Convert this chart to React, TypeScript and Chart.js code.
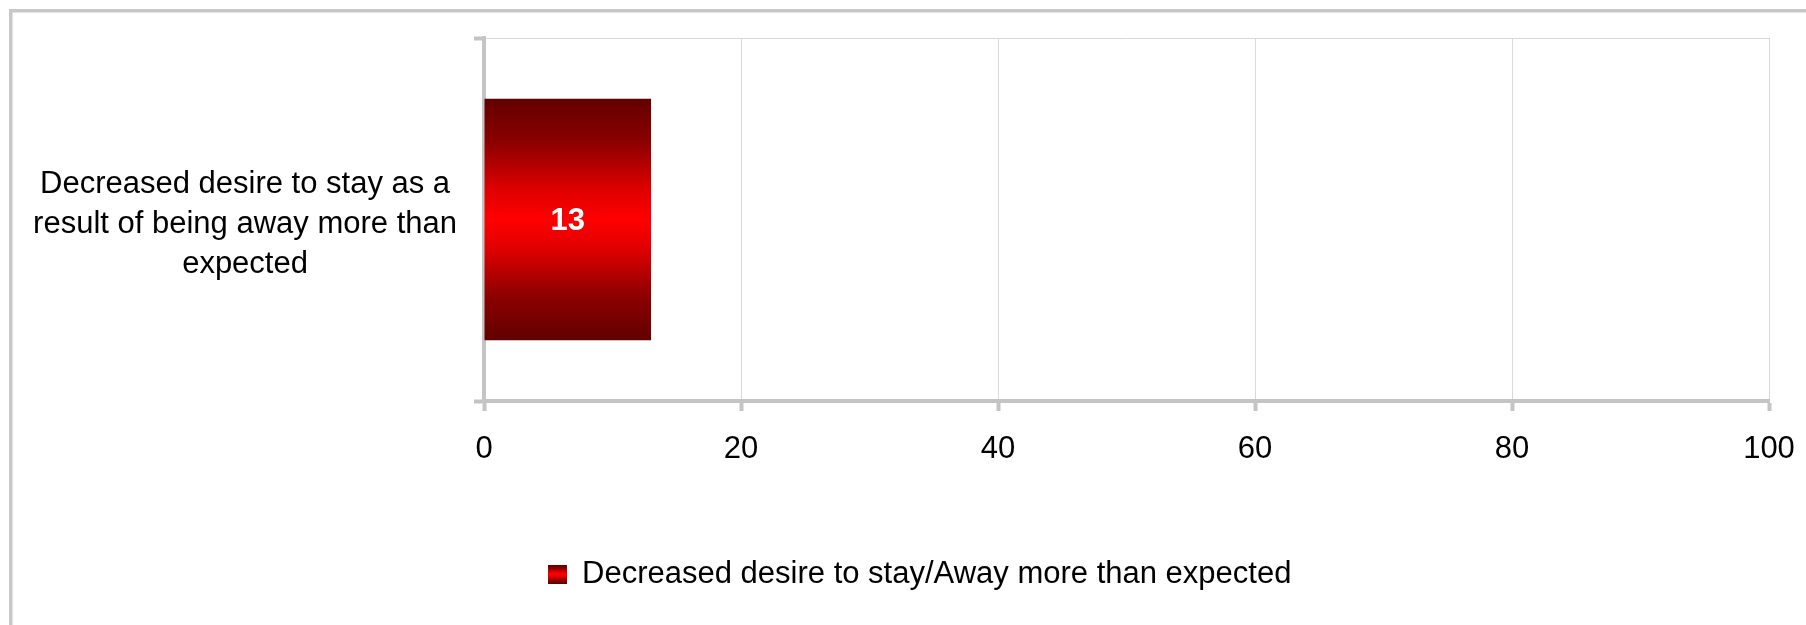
import React, { useEffect, useRef } from "react";
import { Chart, registerables } from "chart.js";

Chart.register(...registerables);

// ---- data ----
const categories: string[][] = [
  ["Decreased desire to stay as a", "result of being away more than", "expected"],
];
const seriesName = "Decreased desire to stay/Away more than expected";
const values: number[] = [13];
const xTicks: number[] = [0, 20, 40, 60, 80, 100];

const FONT = "'Liberation Sans', Arial, sans-serif";
const FONT_SIZE = 31;
const AXIS_GRAY = "#c4c4c4";
const GRID_GRAY = "#d9d9d9";
const BAR_PCT = 0.665;
const LEGEND_SHIFT = 20;

function addStops(g: CanvasGradient) {
  g.addColorStop(0, "#620000");
  g.addColorStop(0.18, "#8c0000");
  g.addColorStop(0.38, "#e00000");
  g.addColorStop(0.5, "#ff0000");
  g.addColorStop(0.62, "#e00000");
  g.addColorStop(0.82, "#8c0000");
  g.addColorStop(1, "#620000");
}

const framePlugin = {
  id: "frame",
  beforeDraw(chart: any) {
    const { ctx, width, height } = chart;
    ctx.save();
    ctx.strokeStyle = "#c8c8c8";
    ctx.lineWidth = 3.5;
    ctx.beginPath();
    ctx.moveTo(10.8, height);
    ctx.lineTo(10.8, 10.8);
    ctx.lineTo(width, 10.8);
    ctx.stroke();
    ctx.restore();
  },
};

const legendShiftPlugin = {
  id: "legendShift",
  afterLayout(chart: any) {
    const lg = chart.legend;
    if (lg) {
      lg.left += LEGEND_SHIFT;
      lg.right += LEGEND_SHIFT;
    }
  },
};

const valueLabelPlugin = {
  id: "valueLabels",
  afterDatasetsDraw(chart: any) {
    const { ctx } = chart;
    const meta = chart.getDatasetMeta(0);
    ctx.save();
    ctx.fillStyle = "#ffffff";
    ctx.font = `bold 31px ${FONT}`;
    ctx.textAlign = "center";
    ctx.textBaseline = "middle";
    meta.data.forEach((el: any, i: number) => {
      const p = el.getProps(["x", "y", "base"], true);
      ctx.fillText(String(values[i]), (p.x + p.base) / 2, p.y + 2);
    });
    ctx.restore();
  },
};

export default function App() {
  const ref = useRef<HTMLCanvasElement | null>(null);

  useEffect(() => {
    if (!ref.current) return;

    const sw = document.createElement("canvas");
    sw.width = 19;
    sw.height = 19;
    const sctx = sw.getContext("2d")!;
    const sg = sctx.createLinearGradient(0, 0, 0, 19);
    addStops(sg);
    sctx.fillStyle = sg;
    sctx.fillRect(0, 0, 19, 19);

    const chart = new Chart(ref.current, {
      type: "bar",
      data: {
        labels: categories as any,
        datasets: [
          {
            label: seriesName,
            data: values,
            categoryPercentage: 1,
            barPercentage: BAR_PCT,
            backgroundColor: (c: any) => {
              const ch = c.chart;
              const y = ch.scales && ch.scales.y;
              if (!y || c.dataIndex === undefined) return "#ff0000";
              const center = y.getPixelForValue(c.dataIndex);
              const half = (y.height / categories.length) * BAR_PCT / 2;
              const g = ch.ctx.createLinearGradient(0, center - half, 0, center + half);
              addStops(g);
              return g;
            },
            borderWidth: 0,
          },
        ],
      },
      options: {
        indexAxis: "y",
        responsive: false,
        animation: false,
        layout: { padding: { top: 38, left: 30, right: 37, bottom: 25 } },
        scales: {
          x: {
            min: xTicks[0],
            max: xTicks[xTicks.length - 1],
            afterBuildTicks: (s: any) => {
              s.ticks = xTicks.map((v) => ({ value: v }));
            },
            afterFit: (s: any) => {
              s.height = 148;
              s.paddingLeft = 0;
              s.paddingRight = 0;
            },
            grid: {
              color: GRID_GRAY,
              lineWidth: 1,
              tickColor: AXIS_GRAY,
              tickWidth: 4,
              tickLength: 10,
            },
            border: { color: AXIS_GRAY, width: 4 },
            ticks: {
              color: "#000",
              font: { family: FONT, size: FONT_SIZE },
              padding: 20,
            },
          },
          y: {
            afterFit: (s: any) => {
              s.width = 454;
              s.paddingTop = 0;
              s.paddingBottom = 0;
            },
            grid: {
              color: GRID_GRAY,
              lineWidth: 1,
              tickColor: AXIS_GRAY,
              tickWidth: 4,
              tickLength: 10,
              offset: true,
            },
            border: { color: AXIS_GRAY, width: 4 },
            ticks: {
              color: "#000",
              font: { family: FONT, size: FONT_SIZE, lineHeight: 1.29 },
              padding: 17,
              crossAlign: "center",
              labelOffset: 5,
            },
          },
        },
        plugins: {
          legend: {
            position: "bottom",
            labels: {
              color: "#000",
              font: { family: FONT, size: FONT_SIZE },
              usePointStyle: true,
              boxWidth: 19,
              boxHeight: 19,
              padding: 10,
              generateLabels: () => [
                {
                  text: seriesName,
                  pointStyle: sw as any,
                  fillStyle: "#ff0000",
                  strokeStyle: "transparent",
                  lineWidth: 0,
                  hidden: false,
                  datasetIndex: 0,
                } as any,
              ],
            },
          },
          tooltip: { enabled: false },
        },
      },
      plugins: [framePlugin, legendShiftPlugin, valueLabelPlugin],
    });

    return () => chart.destroy();
  }, []);

  return (
    <div style={{ position: "fixed", left: 0, top: 0, width: 1806, height: 625, background: "#fff" }}>
      <canvas ref={ref} width={1806} height={625} style={{ display: "block" }} />
    </div>
  );
}
